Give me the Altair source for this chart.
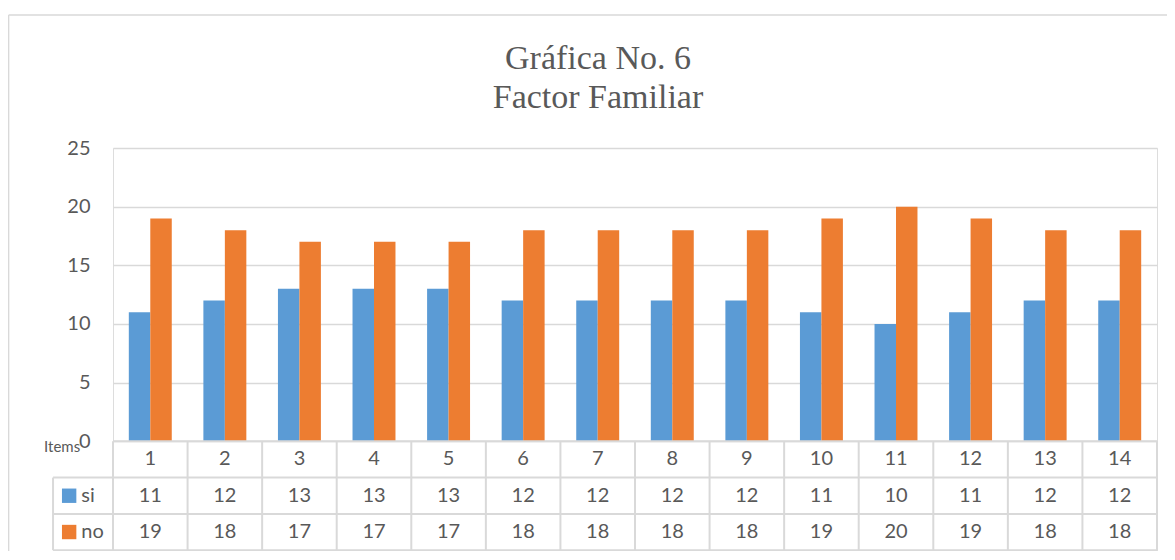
import altair as alt
import pandas as pd

# ---------------- data ----------------
items = list(range(1, 15))
si = [11, 12, 13, 13, 13, 12, 12, 12, 12, 11, 10, 11, 12, 12]
no = [19, 18, 17, 17, 17, 18, 18, 18, 18, 19, 20, 19, 18, 18]
series = ["si", "no"]
colors = ["#5B9BD5", "#ED7D31"]
title_lines = ["Gráfica No. 6", "Factor Familiar"]
corner_label = "Items"
y_ticks = [0, 5, 10, 15, 20, 25]

# ---------------- style / layout ----------------
TEXT = "#595959"
LINE = "#D9D9D9"
FONT = "Lato"
BAR_W = 0.288          # bar width in category units
ROW_H = 3.093          # data-table row height in y units
LEG_X0 = -0.304        # left edge of legend column (x units)
X_MIN, X_MAX = 0.5, 14.5
Y_MIN, Y_MAX = -9.35, 25
FRAME_TOP = 36.34

xscale = alt.Scale(domain=[X_MIN, X_MAX], nice=False, zero=False)
yscale = alt.Scale(domain=[Y_MIN, Y_MAX], nice=False, zero=False)
yaxis = alt.Axis(values=y_ticks, domain=False, ticks=False, title=None,
                 labelFont=FONT, labelFontSize=20, labelColor=TEXT,
                 labelPadding=23, grid=True, gridColor=LINE, gridWidth=1.3)


def X(field):
    return alt.X(field, type="quantitative", scale=xscale, axis=None)


def Y(field):
    return alt.Y(field, type="quantitative", scale=yscale, axis=yaxis)


# long table for bars
bars_df = pd.DataFrame(
    [{"item": i, "serie": s, "value": v}
     for s, vals in zip(series, [si, no]) for i, v in zip(items, vals)]
)

bars = alt.Chart(bars_df).transform_calculate(
    x0=f"datum.item + (datum.serie == 'si' ? {-BAR_W} : 0)",
    x1=f"datum.item + (datum.serie == 'si' ? 0 : {BAR_W})",
).mark_bar().encode(
    x=X("x0"), x2="x1:Q",
    y=Y("value"), y2=alt.datum(0),
    color=alt.Color("serie:N", scale=alt.Scale(domain=series, range=colors), legend=None),
)

# data table cells
row_centers = {"h": -ROW_H / 2, "si": -1.5 * ROW_H, "no": -2.5 * ROW_H}
cells = []
for idx, i in enumerate(items):
    cells.append({"x": i, "y": row_centers["h"], "label": str(i)})
    cells.append({"x": i, "y": row_centers["si"], "label": str(si[idx])})
    cells.append({"x": i, "y": row_centers["no"], "label": str(no[idx])})
cells_df = pd.DataFrame(cells)
cell_text = alt.Chart(cells_df).mark_text(
    font=FONT, fontSize=20, color=TEXT, baseline="middle", align="center"
).encode(x=X("x"), y=Y("y"), text="label:N")

# table borders
h_lines = pd.DataFrame([
    {"y": 0, "xa": X_MIN, "xb": X_MAX},
    {"y": -ROW_H, "xa": LEG_X0, "xb": X_MAX},
    {"y": -2 * ROW_H, "xa": LEG_X0, "xb": X_MAX},
    {"y": -3 * ROW_H, "xa": LEG_X0, "xb": X_MAX},
])
v_lines = pd.DataFrame(
    [{"x": X_MIN + k, "ya": 0, "yb": -3 * ROW_H} for k in range(len(items) + 1)]
    + [{"x": LEG_X0, "ya": -ROW_H, "yb": -3 * ROW_H}]
)
hrule = alt.Chart(h_lines).mark_rule(color=LINE, strokeWidth=2).encode(
    x=X("xa"), x2="xb:Q", y=Y("y"))
vrule = alt.Chart(v_lines).mark_rule(color=LINE, strokeWidth=2).encode(
    x=X("x"), y=Y("ya"), y2="yb:Q")

# legend keys inside the table
leg_df = pd.DataFrame({
    "serie": series,
    "y": [row_centers["si"], row_centers["no"]],
    "xs": [-0.088, -0.088],
    "xt": [0.075, 0.075],
})
leg_sq = alt.Chart(leg_df).mark_square(size=207, opacity=1).encode(
    x=X("xs"), y=Y("y"),
    color=alt.Color("serie:N", scale=alt.Scale(domain=series, range=colors), legend=None),
)
leg_tx = alt.Chart(leg_df).mark_text(
    font=FONT, fontSize=20, color=TEXT, align="left", baseline="middle"
).encode(x=X("xt"), y=Y("y"), text="serie:N")

corner_df = pd.DataFrame({"x": [-0.424], "y": [-0.5], "label": [corner_label]})
corner = alt.Chart(corner_df).mark_text(
    font=FONT, fontSize=15, color=TEXT, align="left", baseline="middle"
).encode(x=X("x"), y=Y("y"), text="label:N")

# outer chart-area frame
frame_df = pd.DataFrame([
    {"xa": -0.9, "xb": -0.9, "ya": -11.0, "yb": FRAME_TOP},
    {"xa": -0.9, "xb": 16.0, "ya": FRAME_TOP, "yb": FRAME_TOP},
])
frame = alt.Chart(frame_df).mark_rule(color=LINE, strokeWidth=1.5).encode(
    x=X("xa"), x2="xb:Q", y=Y("ya"), y2="yb:Q")

chart = alt.layer(
    frame, bars, hrule, vrule, cell_text, leg_sq, leg_tx, corner
).properties(
    width=1044,
    height=403,
    title=alt.TitleParams(
        text=title_lines, font="Liberation Serif", fontSize=34, fontWeight="normal",
        color=TEXT, lineHeight=39, anchor="middle", dx=-37, offset=-135,
        baseline="bottom",
    ),
    autosize=alt.AutoSizeParams(type="none"),
    padding={"left": 105, "top": 140, "right": 10, "bottom": 0},
).configure_view(stroke=None).configure(background="white")

chart.save("out.html", embed_options={"renderer": "svg", "actions": False})
